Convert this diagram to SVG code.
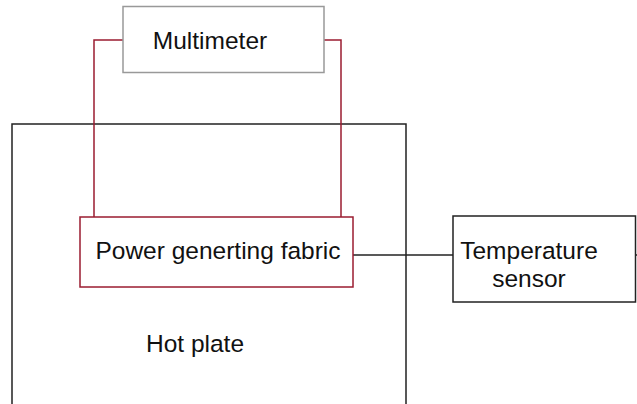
<svg xmlns="http://www.w3.org/2000/svg" width="637" height="404" viewBox="0 0 637 404">
<style>
text{font-family:"Liberation Sans",Arial,sans-serif;font-size:24.5px;fill:#111}
.red{stroke:#9b1c31;stroke-width:1.5;fill:none}
.blk{stroke:#222;stroke-width:1.5;fill:none}
</style>
<rect width="637" height="404" fill="#fff"/>
<g id="hot-plate">
<path class="blk" stroke="#333" d="M12 404 V124 H406 V404"/>
<text x="195" y="352" text-anchor="middle">Hot plate</text>
</g>
<g id="connectors">
<path class="red" d="M123 40 H94 V217"/>
<path class="red" d="M324 40 H341 V217"/>
<path class="blk" d="M353 255 H453"/>
<path class="blk" d="M636 255 H637"/>
</g>
<g id="multimeter">
<rect x="123" y="6.5" width="201" height="66" fill="#fff" stroke="#999" stroke-width="1.5"/>
<text x="210" y="49" text-anchor="middle">Multimeter</text>
</g>
<g id="fabric">
<rect x="80" y="217" width="273" height="70" fill="#fff" class="red"/>
<text x="218" y="259" text-anchor="middle">Power generting fabric</text>
</g>
<g id="temperature-sensor">
<rect x="453" y="216" width="182.5" height="86" fill="#fff" class="blk"/>
<text x="529" y="259" text-anchor="middle">Temperature</text>
<text x="529" y="287" text-anchor="middle">sensor</text>
</g>
</svg>
